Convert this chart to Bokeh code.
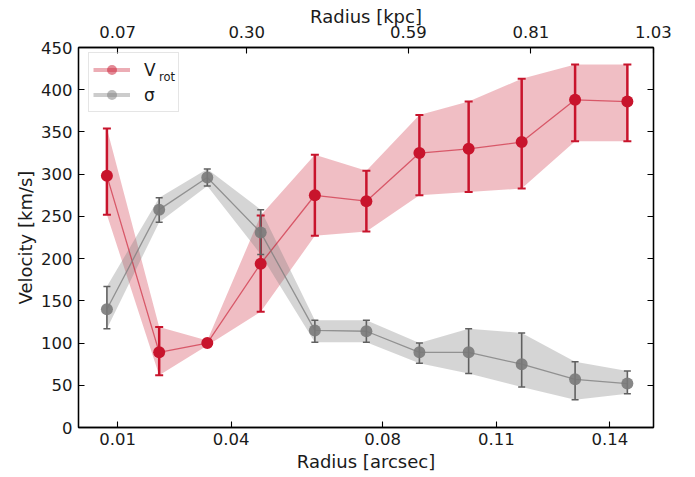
from bokeh.plotting import figure
from bokeh.models import Range1d, LinearAxis, FixedTicker, Legend, LegendItem, Label
from bokeh.embed import file_html
from bokeh.resources import INLINE

# ---------------- data ----------------
radius_arcsec = [0.0072, 0.0210, 0.0337, 0.0478, 0.0621, 0.0757, 0.0897, 0.1027, 0.1167, 0.1308, 0.1446]

vrot = [298, 89, 100, 194, 275, 268, 325, 330, 338, 388, 386]
vrot_lower = [252, 62, 97, 137, 227, 232, 275, 279, 283, 339, 339]
vrot_upper = [354, 119, 103, 251, 323, 304, 370, 386, 413, 430, 430]

sigma = [140, 258, 296, 231, 115, 114, 89, 89, 75, 57, 52]
sigma_lower = [117, 243, 286, 205, 101, 101, 76, 64, 48, 33, 40]
sigma_upper = [167, 272, 306, 258, 127, 127, 100, 117, 112, 78, 67]

x_ticks = [0.01, 0.04, 0.08, 0.11, 0.14]
y_ticks = [0, 50, 100, 150, 200, 250, 300, 350, 400, 450]
kpc_ticks = [0.068, 0.30, 0.59, 0.81, 1.03]
kpc_tick_labels = ["0.07", "0.30", "0.59", "0.81", "1.03"]
KPC_PER_ARCSEC = 6.8

X_START, X_END = -0.0003, 0.1515
Y_START, Y_END = 0, 450

FONT = "DejaVu Sans"
RED = "#c8142c"
GREY = "#7a7a7a"
TEXT = "#1a1a1a"
NAN = float("nan")

W, H = 695, 477
B_LEFT, B_RIGHT, B_TOP, B_BOTTOM = 78, 42, 47, 50
FRAME_H = H - B_TOP - B_BOTTOM

p = figure(width=W, height=H, output_backend="svg", toolbar_location=None,
           x_range=Range1d(X_START, X_END), y_range=Range1d(Y_START, Y_END),
           min_border_left=B_LEFT, min_border_right=B_RIGHT,
           min_border_top=B_TOP, min_border_bottom=B_BOTTOM,
           background_fill_color="white", border_fill_color="white")
p.extra_x_ranges = {"kpc": Range1d(X_START * KPC_PER_ARCSEC, X_END * KPC_PER_ARCSEC)}
p.grid.visible = False
p.outline_line_color = "black"
p.outline_line_width = 1.3


def style_axis(ax):
    ax.major_tick_in = 6
    ax.major_tick_out = 0
    ax.minor_tick_line_color = None
    ax.axis_line_color = "black"
    ax.axis_line_width = 1.3
    ax.major_tick_line_color = "black"
    ax.major_tick_line_width = 1.1
    ax.major_label_text_font = FONT
    ax.major_label_text_font_size = "16.5px"
    ax.major_label_text_color = TEXT
    ax.axis_label_text_font = FONT
    ax.axis_label_text_font_size = "18px"
    ax.axis_label_text_font_style = "normal"
    ax.axis_label_text_color = TEXT


bx = p.xaxis[0]
bx.ticker = FixedTicker(ticks=x_ticks)
bx.axis_label = "Radius [arcsec]"
style_axis(bx)
bx.major_label_standoff = 5
bx.axis_label_standoff = 3

ly = p.yaxis[0]
ly.ticker = FixedTicker(ticks=y_ticks)
ly.axis_label = "Velocity [km/s]"
style_axis(ly)
ly.major_label_standoff = 6
ly.axis_label_standoff = 2

tx = LinearAxis(x_range_name="kpc", ticker=FixedTicker(ticks=kpc_ticks),
                major_label_overrides={t: l for t, l in zip(kpc_ticks, kpc_tick_labels)},
                axis_label="Radius [kpc]")
style_axis(tx)
tx.major_label_standoff = 10
tx.axis_label_standoff = -4
tx.axis_label_text_line_height = 0.9
p.add_layout(tx, "above")

ry = LinearAxis(ticker=FixedTicker(ticks=y_ticks))
style_axis(ry)
ry.major_label_text_font_size = "0px"
ry.major_label_standoff = 0
p.add_layout(ry, "right")

# ---------------- bands ----------------
p.varea(x=radius_arcsec, y1=vrot_lower, y2=vrot_upper, fill_color=RED, fill_alpha=0.28)
p.varea(x=radius_arcsec, y1=sigma_lower, y2=sigma_upper, fill_color="#808080", fill_alpha=0.33)

# ---------------- V_rot ----------------
p.line(radius_arcsec, vrot, line_color=RED, line_alpha=0.6, line_width=1.3)
p.segment(x0=radius_arcsec, y0=vrot_lower, x1=radius_arcsec, y1=vrot_upper,
          line_color=RED, line_width=2.5)
p.scatter(radius_arcsec, vrot_lower, marker="dash", size=8, line_color=RED, line_width=2)
p.scatter(radius_arcsec, vrot_upper, marker="dash", size=8, line_color=RED, line_width=2)
p.scatter(radius_arcsec, vrot, size=12, fill_color=RED, line_color=None)

# ---------------- sigma ----------------
p.line(radius_arcsec, sigma, line_color="#808080", line_alpha=0.8, line_width=1.3)
p.segment(x0=radius_arcsec, y0=sigma_lower, x1=radius_arcsec, y1=sigma_upper,
          line_color="#606060", line_width=1.6)
p.scatter(radius_arcsec, sigma_lower, marker="dash", size=7, line_color="#606060", line_width=1.5)
p.scatter(radius_arcsec, sigma_upper, marker="dash", size=7, line_color="#606060", line_width=1.5)
p.scatter(radius_arcsec, sigma, size=12, fill_color=GREY, fill_alpha=0.9, line_color=None)

# ---------------- legend (proxy renderers hold NaN so nothing shows in the plot) ----------------
lr_line = p.line(x=[NAN], y=[NAN], line_color=RED, line_alpha=0.35, line_width=4)
lr_pt = p.scatter(x=[NAN], y=[NAN], size=12, fill_color=RED, fill_alpha=0.5, line_color=None)
lg_line = p.line(x=[NAN], y=[NAN], line_color="#808080", line_alpha=0.4, line_width=4)
lg_pt = p.scatter(x=[NAN], y=[NAN], size=12, fill_color=GREY, fill_alpha=0.5, line_color=None)

legend = Legend(items=[LegendItem(label="V", renderers=[lr_line, lr_pt]),
                       LegendItem(label="σ", renderers=[lg_line, lg_pt])],
                location=(10, 315), orientation="vertical",
                glyph_width=37, glyph_height=25, label_height=25, label_width=30,
                label_standoff=14, padding=4, spacing=0, margin=0,
                label_text_font=FONT, label_text_font_size="17px", label_text_color=TEXT,
                border_line_color="#cccccc", border_line_width=1,
                background_fill_color=None)
p.add_layout(legend, "center")

p.add_layout(Label(x=80.5, y=FRAME_H - 29, x_units="screen", y_units="screen", text="rot",
                   text_font=FONT, text_font_size="11.5px", text_color=TEXT,
                   text_baseline="alphabetic"))

open("out.html", "w").write(file_html(p, INLINE))
